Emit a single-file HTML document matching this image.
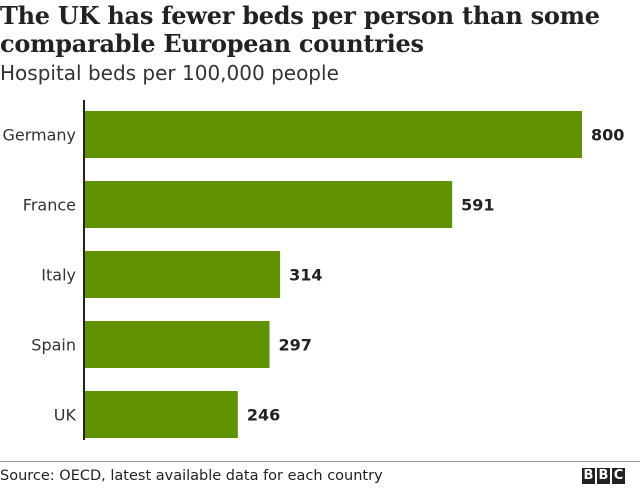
<!DOCTYPE html>
<html><head><meta charset="utf-8"><style>
body{margin:0;background:#fff;}
#c{position:relative;width:640px;height:490px;overflow:hidden;font-family:"DejaVu Sans","Liberation Sans",sans-serif;}
.t{position:absolute;left:0;font-family:"DejaVu Serif","Liberation Serif",serif;font-weight:bold;font-size:24px;color:#222;letter-spacing:-0.25px;}
</style></head><body>
<div id="c">
<div class="t" style="top:1px">The UK has fewer beds per person than some</div>
<div class="t" style="top:29px">comparable European countries</div>
<div style="position:absolute;left:0;top:61px;font-size:20px;color:#333">Hospital beds per 100,000 people</div>
<svg id="s" width="640" height="490" style="position:absolute;left:0;top:0"></svg>
<div style="position:absolute;left:0;top:461px;width:640px;height:1px;background:#999"></div>
<div style="position:absolute;left:0;top:468px;font-size:14.5px;color:#222">Source: OECD, latest available data for each country</div>
<div style="position:absolute;left:582px;top:468px;display:flex;gap:2px">
<span style="width:13px;height:16px;background:#222;color:#fff;font-weight:bold;font-size:13px;text-align:center;line-height:16px">B</span>
<span style="width:13px;height:16px;background:#222;color:#fff;font-weight:bold;font-size:13px;text-align:center;line-height:16px">B</span>
<span style="width:13px;height:16px;background:#222;color:#fff;font-weight:bold;font-size:13px;text-align:center;line-height:16px">C</span>
</div>
</div>
<script>
const categories=["Germany","France","Italy","Spain","UK"];
const values=[800,591,314,297,246];
const NS="http://www.w3.org/2000/svg";
const svg=document.getElementById('s');
const x0=85,scale=497/800;
function xw(v){return v*scale;}
function yb(i){return 111+i*70;}
const bh=47;
categories.forEach((c,i)=>{
  const r=document.createElementNS(NS,'rect');
  r.setAttribute('x',x0);r.setAttribute('y',yb(i));r.setAttribute('width',xw(values[i]));r.setAttribute('height',bh);r.setAttribute('fill','#5f9100');
  
  
  svg.appendChild(r);
  const l=document.createElementNS(NS,'text');
  l.setAttribute('x',76);l.setAttribute('y',yb(i)+bh/2+6);l.setAttribute('text-anchor','end');l.setAttribute('font-size','16');l.setAttribute('fill','#333');l.textContent=c;
  
  
  svg.appendChild(l);
  const v=document.createElementNS(NS,'text');
  v.setAttribute('x',x0+xw(values[i])+9);v.setAttribute('y',yb(i)+bh/2+6);v.setAttribute('font-size','16');v.setAttribute('font-weight','bold');v.setAttribute('fill','#222');v.textContent=values[i];
  
  
  svg.appendChild(v);
});
const ax=document.createElementNS(NS,'line');
ax.setAttribute('x1',84);ax.setAttribute('x2',84);ax.setAttribute('y1',100);ax.setAttribute('y2',440);ax.setAttribute('stroke','#222');ax.setAttribute('stroke-width','2');


svg.appendChild(ax);
</script>
</body></html>
